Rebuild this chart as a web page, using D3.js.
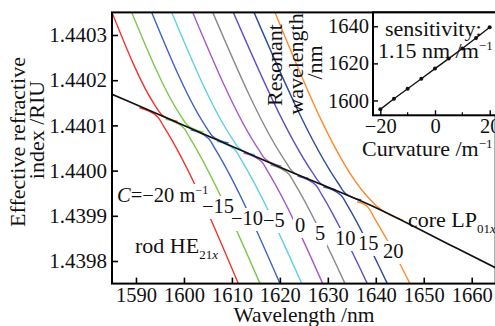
<!DOCTYPE html>
<html><head><meta charset="utf-8">
<script src="https://cdn.jsdelivr.net/npm/d3@7"></script>
<style>
body{margin:0;background:#fff}
svg{display:block}
</style></head><body>
<svg id="c" width="495" height="326"></svg>
<script>
// ---------- data ----------
const xTicks = [1590,1600,1610,1620,1630,1640,1650,1660];
const yTicks = [1.4398,1.4399,1.4400,1.4401,1.4402,1.4403];
const yTickLabels = ["1.4398","1.4399","1.4400","1.4401","1.4402","1.4403"];
const curvatures = [-20,-15,-10,-5,0,5,10,15,20];
const curvatureLabels = ["C=−20 m","−15","−10","−5","0","5","10","15","20"];
const colors = ["#f2332b","#7cc84a","#3d62c4","#5fd0e2","#a757c6","#8a8a8a","#6250c4","#2e4b9c","#ff8a2e"];

// core LP01x mode
const coreWl = [1585, 1605.4, 1622.1, 1638.8, 1656.9, 1665];
const coreN  = [1.440169, 1.440075, 1.439998, 1.439924, 1.439828, 1.439785];

// rod HE21x supermodes: upper branches (rod-like -> core-like)
const upperWl = [
  [1585.00, 1593.86, 1595.32, 1598.66],
  [1589.11, 1599.28, 1600.74, 1604.08],
  [1593.28, 1604.52, 1605.98, 1609.31],
  [1597.45, 1610.00, 1611.46, 1614.80],
  [1601.83, 1615.55, 1617.01, 1620.34],
  [1606.00, 1621.18, 1622.64, 1625.97],
  [1610.29, 1626.85, 1628.31, 1631.64],
  [1614.61, 1632.16, 1633.62, 1636.96],
  [1618.99, 1637.96, 1640.05, 1645.68]
];
const upperN = [
  [1.44035, 1.440146, 1.440124, 1.440109],
  [1.44035, 1.440122, 1.440100, 1.440085],
  [1.44035, 1.440098, 1.440076, 1.440061],
  [1.44035, 1.440072, 1.440050, 1.440035],
  [1.44035, 1.440047, 1.440025, 1.440010],
  [1.44035, 1.440020, 1.439998, 1.439983],
  [1.44035, 1.439995, 1.439973, 1.439958],
  [1.44035, 1.439972, 1.439950, 1.439935],
  [1.44035, 1.439946, 1.439923, 1.439890]
];
// lower branches (core-like -> rod-like)
const lowerWl = [
  [1590.73, 1594.49, 1595.84, 1611.33],
  [1596.16, 1599.91, 1601.26, 1615.86],
  [1601.39, 1605.14, 1606.50, 1620.03],
  [1606.87, 1610.63, 1611.98, 1624.55],
  [1612.42, 1616.17, 1617.53, 1628.93],
  [1618.05, 1621.80, 1623.16, 1633.58],
  [1623.72, 1627.47, 1628.83, 1638.23],
  [1629.04, 1632.79, 1634.14, 1642.40],
  [1636.08, 1638.17, 1640.19, 1642.34, 1647.13]
];
const lowerN = [
  [1.440139, 1.440119, 1.440097, 1.43975],
  [1.440114, 1.440095, 1.440072, 1.43975],
  [1.440090, 1.440071, 1.440048, 1.43975],
  [1.440065, 1.440046, 1.440023, 1.43975],
  [1.440039, 1.440020, 1.439997, 1.43975],
  [1.440013, 1.439993, 1.439970, 1.43975],
  [1.439988, 1.439968, 1.439945, 1.43975],
  [1.439964, 1.439945, 1.439922, 1.43975],
  [1.439931, 1.439921, 1.439886, 1.439847, 1.43975]
];

// inset: resonant wavelength vs curvature
const insetC = [-20,-15,-10,-5,0,5,10,15,20];
const resonantWl = [1595.2, 1600.9, 1606.3, 1611.7, 1617.2, 1622.6, 1628.0, 1633.7, 1639.5];
const insetXTicks = [-20,0,20];
const insetXMinor = [-10,10];
const insetYTicks = [1600,1620,1640];

// ---------- drawing ----------
const FONT = "Liberation Serif";
const svg = d3.select("#c").attr("font-family", FONT);
const L = 112, R = 495.7, T = 12.4, B = 283.6;
const x = d3.scaleLinear().domain([1585,1665]).range([L,R]);
const y = d3.scaleLinear().domain([1.43975,1.44035]).range([B,T]);

svg.append("defs").append("clipPath").attr("id","pc")
  .append("rect").attr("x",L).attr("y",T).attr("width",R-L).attr("height",B-T);

const plot = svg.append("g").attr("clip-path","url(#pc)");
const line = d3.line().x(d=>x(d[0])).y(d=>y(d[1])).curve(d3.curveMonotoneX);

curvatures.forEach((c,i)=>{
  const up = upperWl[i].map((w,j)=>[w, upperN[i][j]]);
  const lo = lowerWl[i].map((w,j)=>[w, lowerN[i][j]]);
  [up,lo].forEach(pts=>{
    plot.append("path").attr("d",line(pts)).attr("fill","none")
      .attr("stroke",colors[i]).attr("stroke-width",1.4);
  });
});
plot.append("path").attr("d", line(coreWl.map((w,j)=>[w,coreN[j]])))
  .attr("fill","none").attr("stroke","#111").attr("stroke-width",1.7);

// axes
const xa = svg.append("g").attr("transform",`translate(0,${B})`)
  .call(d3.axisBottom(x).tickValues(xTicks).tickSizeInner(-6).tickSizeOuter(0).tickPadding(4).tickFormat(d3.format("d")));
const ya = svg.append("g").attr("transform",`translate(${L},0)`)
  .call(d3.axisLeft(y).tickValues(yTicks).tickSizeInner(-6).tickSizeOuter(0).tickPadding(5).tickFormat((d,i)=>yTickLabels[i]));
[xa,ya].forEach(a=>{
  a.attr("font-family", FONT);
  a.select(".domain").remove();
  a.selectAll(".tick line").attr("stroke","#000").attr("stroke-width",1.6);
  a.selectAll(".tick text").attr("fill","#111").attr("font-family",FONT);
});
xa.selectAll(".tick text").attr("font-size",20.5);
ya.selectAll(".tick text").attr("font-size",21);
svg.append("rect").attr("x",L).attr("y",T).attr("width",R-L).attr("height",B-T)
  .attr("fill","none").attr("stroke","#000").attr("stroke-width",2);

function rich(g, px, py, segs, size, anchor){
  const t = g.append("text").attr("x",px).attr("y",py).attr("font-size",size)
    .attr("font-family",FONT).attr("text-anchor",anchor||"start").attr("fill","#111");
  let cur = 0;
  segs.forEach(s=>{
    const target = s.sup ? -8 : (s.sub ? 6 : 0);
    const sp = t.append("tspan").text(s.t).attr("dy", target-cur).attr("font-family",FONT);
    cur = target;
    if (s.sup || s.sub) sp.attr("font-size", Math.round(size*0.6));
    if (s.i) sp.attr("font-style","italic");
  });
  return t;
}

// curvature labels (white backgrounds drawn first, beneath all texts)
const labelPos = [[117,202],[202,213],[231,225],[263,227],[295,232],[315,240],[335,245],[358,250],[383,258]];
const labBg = svg.append("g");
const lab = svg.append("g");
curvatures.forEach((c,i)=>{
  const segs = i===0 ? [{t:"C",i:true},{t:"=−20 m"},{t:"−1",sup:true}] : [{t:curvatureLabels[i]}];
  const t = rich(lab, labelPos[i][0], labelPos[i][1], segs, 20.5);
  const b = t.node().getBBox();
  labBg.append("rect").attr("x",b.x-2).attr("y",b.y+1)
    .attr("width",b.width+4).attr("height",b.height+1).attr("fill","#fff");
});
rich(svg, 408, 227, [{t:"core LP"},{t:"01",sub:true},{t:"x",sub:true,i:true}], 22);
rich(svg, 135, 253, [{t:"rod HE"},{t:"21",sub:true},{t:"x",sub:true,i:true}], 22);

function txt(g, tr, s, size){
  return g.append("text").attr("transform",tr).attr("text-anchor","middle")
    .attr("font-family",FONT).attr("font-size",size).attr("fill","#111").text(s);
}
txt(svg, "translate(304,321.5)", "Wavelength /nm", 21.5);
txt(svg, "translate(25,142) rotate(-90)", "Effective refractive", 22);
txt(svg, "translate(44,130) rotate(-90)", "index /RIU", 22);

// ---------- inset ----------
const iL = 373, iR = 497, iT = 12.4, iB = 115.3;
const ix = d3.scaleLinear().domain([-22.67,22.67]).range([iL,iR]);
const iy = d3.scaleLinear().domain([1592,1647.5]).range([iB,iT]);
const ins = svg.append("g");
ins.append("rect").attr("x",iL).attr("y",iT).attr("width",iR-iL).attr("height",iB-iT).attr("fill","#fff");
const ixa = ins.append("g").attr("transform",`translate(0,${iB})`)
  .call(d3.axisBottom(ix).tickValues(insetXTicks).tickSizeInner(-5).tickSizeOuter(0).tickPadding(3).tickFormat(d=>d<0?"−"+Math.abs(d):d));
const iya = ins.append("g").attr("transform",`translate(${iL},0)`)
  .call(d3.axisLeft(iy).tickValues(insetYTicks).tickSizeInner(-5).tickSizeOuter(0).tickPadding(4).tickFormat(d3.format("d")));
[ixa,iya].forEach(a=>{
  a.attr("font-family", FONT);
  a.select(".domain").remove();
  a.selectAll(".tick line").attr("stroke","#000").attr("stroke-width",1.4);
  a.selectAll(".tick text").attr("font-size",20.5).attr("fill","#111").attr("font-family",FONT);
});
ins.selectAll("line.minor").data(insetXMinor).join("line").attr("class","minor")
  .attr("x1",d=>ix(d)).attr("x2",d=>ix(d)).attr("y1",iB).attr("y2",iB-3)
  .attr("stroke","#000").attr("stroke-width",1.2);
ins.append("rect").attr("x",iL).attr("y",iT).attr("width",iR-iL).attr("height",iB-iT)
  .attr("fill","none").attr("stroke","#000").attr("stroke-width",2);

const ipts = insetC.map((c,i)=>[c,resonantWl[i]]);
ins.append("path").attr("d", d3.line().x(d=>ix(d[0])).y(d=>iy(d[1]))(ipts))
  .attr("fill","none").attr("stroke","#111").attr("stroke-width",1.4);
ins.selectAll("circle").data(ipts).join("circle")
  .attr("cx",d=>ix(d[0])).attr("cy",d=>iy(d[1])).attr("r",2).attr("fill","#111");

rich(ins, 385, 36, [{t:"sensitivity:"}], 22);
rich(ins, 378, 58, [{t:"1.15 nm /m"},{t:"−1",sup:true}], 22);
rich(ins, 362, 156, [{t:"Curvature /m"},{t:"−1",sup:true}], 22);

[["Resonant",282,65],["wavelength",303,64],["/nm",322,62.5]].forEach(a=>{
  txt(svg, `translate(${a[1]},${a[2]}) rotate(-90)`, a[0], 22);
});
</script>
</body></html>
